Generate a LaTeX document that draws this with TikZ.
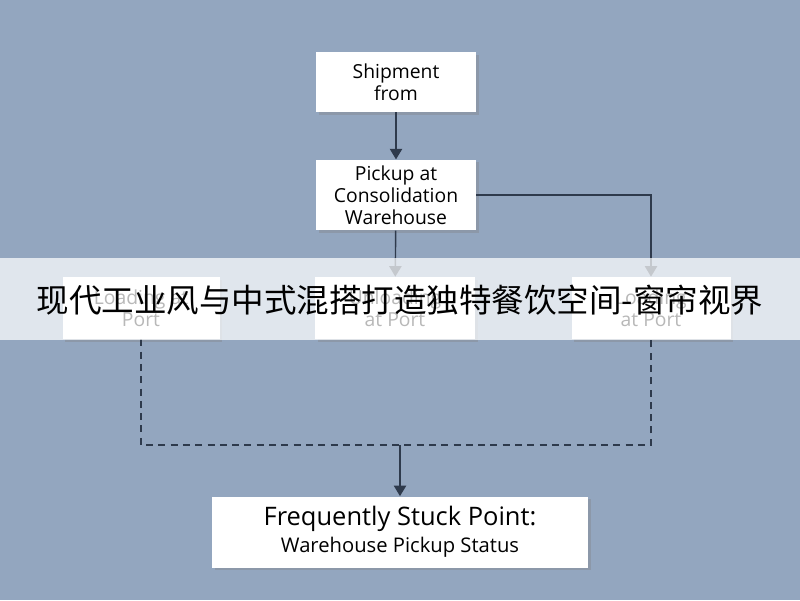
\documentclass[tikz,border=0pt]{standalone}
\usepackage{fontspec}
\setmainfont{Open Sans}
\newfontfamily\cjk{Noto Sans CJK SC}
\usetikzlibrary{arrows.meta,shadows}
\definecolor{bgblue}{HTML}{93A6BF}
\definecolor{lineblue}{HTML}{2E3A4C}
\begin{document}
\begin{tikzpicture}[x=0.02cm,y=-0.02cm,>/.tip={Triangle[length=6pt,width=7pt]},
  box/.style={draw=none,fill=white,align=center,font=\fontsize{11}{12.5}\selectfont,
    drop shadow={shadow xshift=1.5pt,shadow yshift=-1.5pt,opacity=0.35}},
  link/.style={draw=lineblue,line width=0.8pt},
  dashlink/.style={link,dash pattern=on 4pt off 3pt}]
\fill[bgblue] (0,0) rectangle (800,600);
\useasboundingbox (0,0) rectangle (800,600);
\node (ship) [box,minimum width=160*0.02cm,minimum height=60*0.02cm] at (396,82) {Shipment\\from};
\node (pick) [box,minimum width=160*0.02cm,minimum height=63*0.02cm] at (396,195) {Pickup at\\Consolidation\\Warehouse};
\node (left) [box,minimum width=157*0.02cm,minimum height=62*0.02cm] at (141,308) {Loading at\\Port};
\node (mid) [box,minimum width=160*0.02cm,minimum height=62*0.02cm] at (395,308) {Unloading\\at Port};
\node (right) [box,minimum width=159*0.02cm,minimum height=62*0.02cm] at (651,308) {Loading\\at Port};
\node (stuck) [box,minimum width=376*0.02cm,minimum height=71*0.02cm] at (400,532)
  {{\fontsize{14.5}{17}\selectfont Frequently Stuck Point:}\\[3pt]{\fontsize{11.5}{13}\selectfont Warehouse Pickup Status}};
\coordinate (turn) at (right.north |- pick.east);
\coordinate (bl) at (left.south |- 0,445);
\coordinate (br) at (right.south |- 0,445);
\coordinate (bm) at (stuck.north |- 0,445);
\draw[link,->] (ship) -- (pick);
\draw[link,->] (pick) -- (mid);
\draw[link,->] (pick.east) -- (turn) -- (right.north);
\draw[dashlink] (left.south) -- (bl) -- (br) -- (right.south);
\draw[link,->] (bm) -- (stuck.north);
\fill[white,opacity=0.72] (0,258) rectangle (800,340);
\node (title) at (400,300) {\cjk\fontsize{18.5}{22}\selectfont 现代工业风与中式混搭打造独特餐饮空间-窗帘视界};
\end{tikzpicture}
\end{document}
